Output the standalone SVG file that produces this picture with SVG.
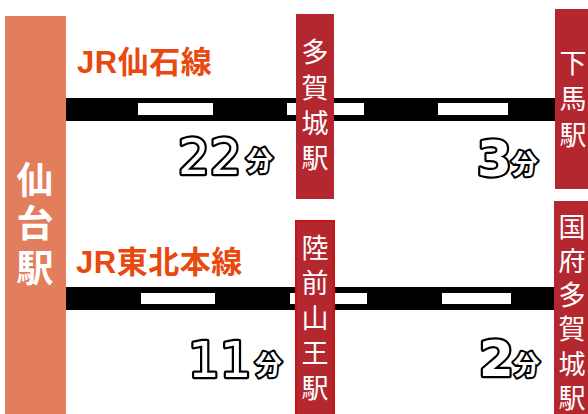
<svg xmlns="http://www.w3.org/2000/svg" width="588" height="414" viewBox="0 0 588 414">
  <style>
    .line-label { font-family: "Liberation Sans", "Noto Sans CJK JP", sans-serif; font-weight: bold; font-size: 31px; fill: #E8490F; letter-spacing: 0.5px; }
    .st-box { fill: #B5272F; }
    .st-text { font-family: "Noto Sans CJK JP", "Noto Sans", sans-serif; font-size: 27px; fill: #FFFFFF; text-anchor: middle; }
    .hub-text { font-family: "Noto Sans CJK JP", "Noto Sans", sans-serif; font-weight: bold; font-size: 37px; fill: #FFFFFF; text-anchor: middle; }
    .rail { fill: #000000; }
    .dash { fill: #FFFFFF; }
    .num { font-family: "DejaVu Sans", "Liberation Sans", sans-serif; font-size: 50px; fill: #FFFFFF; stroke: #000000; stroke-width: 4.5px; paint-order: stroke; stroke-linejoin: round; }
    .num-b { font-weight: bold; }
    .fun { font-family: "Noto Sans CJK JP", "Noto Sans", sans-serif; font-weight: bold; font-size: 27px; fill: #FFFFFF; stroke: #000000; stroke-width: 4px; paint-order: stroke; stroke-linejoin: round; }
  </style>

  <g id="connectors">
    <g id="line-senseki">
      <rect class="rail" x="64" y="98" width="494" height="23" rx="3"/>
      <rect class="dash" x="138" y="103" width="75" height="12"/>
      <rect class="dash" x="287" y="103" width="77" height="12"/>
      <rect class="dash" x="438" y="103" width="70" height="12"/>
    </g>
    <g id="line-tohoku">
      <rect class="rail" x="66" y="287" width="492" height="23"/>
      <rect class="dash" x="141" y="293" width="74" height="11"/>
      <rect class="dash" x="290" y="293" width="77" height="11"/>
      <rect class="dash" x="442" y="293" width="69" height="11"/>
    </g>
  </g>

  <g id="sendai">
    <rect x="5" y="16" width="61" height="398" fill="#E27E5B"/>
    <text class="hub-text"><tspan x="35" y="194">仙</tspan><tspan x="35" y="237">台</tspan><tspan x="35" y="282">駅</tspan></text>
  </g>

  <g id="label-senseki">
    <text class="line-label" x="77" y="73">JR仙石線</text>
  </g>
  <g id="label-tohoku">
    <text class="line-label" x="76" y="273">JR東北本線</text>
  </g>

  <g id="tagajo">
    <rect class="st-box" x="296" y="14" width="38" height="185"/>
    <text class="st-text"><tspan x="315" y="62">多</tspan><tspan x="315" y="98">賀</tspan><tspan x="315" y="133">城</tspan><tspan x="315" y="168">駅</tspan></text>
  </g>

  <g id="geba">
    <rect class="st-box" x="555" y="9" width="33" height="180"/>
    <text class="st-text"><tspan x="573" y="73">下</tspan><tspan x="573" y="109">馬</tspan><tspan x="573" y="145">駅</tspan></text>
  </g>

  <g id="rikuzen-sanno">
    <rect class="st-box" x="296" y="221" width="38" height="195" stroke="#CC1111" stroke-width="2"/>
    <text class="st-text"><tspan x="315" y="258">陸</tspan><tspan x="315" y="293">前</tspan><tspan x="315" y="328">山</tspan><tspan x="315" y="363">王</tspan><tspan x="315" y="398">駅</tspan></text>
  </g>

  <g id="kokufu-tagajo">
    <rect class="st-box" x="554" y="201" width="34" height="213"/>
    <text class="st-text"><tspan x="572" y="237">国</tspan><tspan x="572" y="271">府</tspan><tspan x="572" y="305">多</tspan><tspan x="572" y="339">賀</tspan><tspan x="572" y="374">城</tspan><tspan x="572" y="408">駅</tspan></text>
  </g>

  <g id="time-senseki-1">
    <text class="num" x="178" y="174">22</text>
    <text class="fun" x="246" y="171">分</text>
  </g>
  <g id="time-senseki-2">
    <text class="num num-b" x="477" y="176">3</text>
    <text class="fun" x="511" y="174">分</text>
  </g>
  <g id="time-tohoku-1">
    <text class="num" x="188" y="377">11</text>
    <text class="fun" x="255" y="375">分</text>
  </g>
  <g id="time-tohoku-2">
    <text class="num num-b" x="479" y="376">2</text>
    <text class="fun" x="513" y="375">分</text>
  </g>
</svg>
